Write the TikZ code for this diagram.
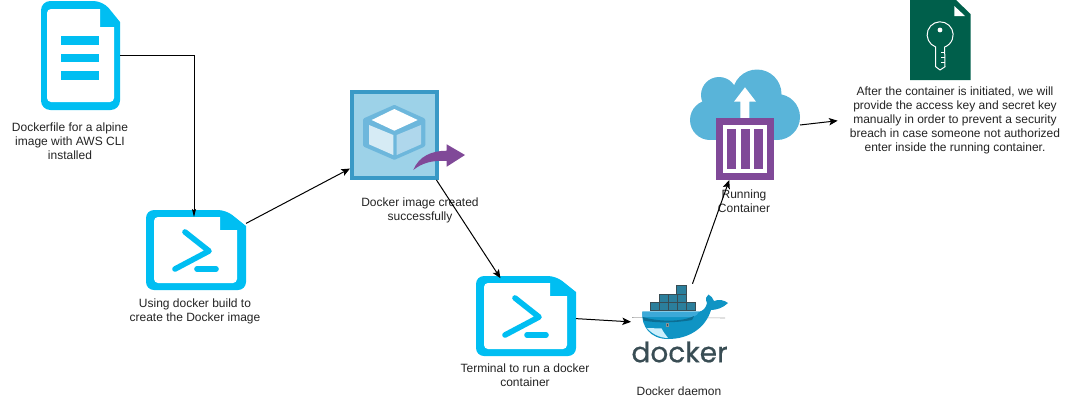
\documentclass[tikz,border=0pt]{standalone}
\usepackage{fontspec}
\setmainfont{Liberation Sans}
\newfontfamily\logofont[FakeBold=0.6]{Poppins}
\usetikzlibrary{arrows.meta}

\definecolor{iconcyan}{HTML}{00BEF2}
\definecolor{azurepurple}{HTML}{804998}
\definecolor{azurecloud}{HTML}{59B4D9}
\definecolor{imageedge}{HTML}{3999C6}
\definecolor{imagefill}{HTML}{9DD2E8}
\definecolor{cubeedge}{HTML}{6DB7DC}
\definecolor{keygreen}{HTML}{005F4B}
\definecolor{labelgray}{HTML}{232323}
\definecolor{whalemid}{HTML}{0F94C4}
\definecolor{whaledark}{HTML}{0B6E94}
\definecolor{whaletop}{HTML}{3CA9D8}
\definecolor{boxteal}{HTML}{2B7F9C}
\definecolor{logoslate}{HTML}{394D54}

\tikzset{
  terminalicon/.pic={
    \fill [iconcyan,rounded corners=6pt] (-50,-40) -- (30,-40) [sharp corners] -- (50,-24) [rounded corners=6pt] -- (50,40) -- (-50,40) -- cycle;
    \fill [white,rounded corners=3pt] (-42,-33) [sharp corners] -- (24,-33) -- (24,-20) -- (41,-20) [rounded corners=3pt] -- (41,33) -- (-42,33) -- cycle;
    \draw [iconcyan,line width=4.2pt,line cap=round,line join=round] (-11,-18) -- (13,1) -- (-21,19);
    \draw [iconcyan,line width=4.2pt,line cap=round] (1,19) -- (20,19);
  }
}

\begin{document}
\begin{tikzpicture}[
    x=0.75pt,y=-0.75pt,
    iconbox/.style={inner sep=0pt,outer sep=0pt},
    caption/.style={align=center,inner sep=0pt,text=labelgray,font=\fontsize{9}{10.5}\selectfont},
    flow/.style={draw=black,line width=0.75pt,-{Stealth[length=6.5pt,width=5.5pt,inset=1.5pt]}}
    ]

    \useasboundingbox (0,0) rectangle (1071,401);

    % icon boxes:
    \node (dockerfile) at (80.5,55.5) [iconbox,minimum width=59.25pt,minimum height=82.5pt] {};
    \node (build) at (196,250) [iconbox,minimum width=75pt,minimum height=60pt] {};
    \node (image) at (394.5,135) [iconbox,minimum width=66.75pt,minimum height=67.5pt] {};
    \node (terminal) at (526,316) [iconbox,minimum width=75pt,minimum height=60pt] {};
    \node (daemon) at (680,327) [iconbox,minimum width=73.5pt,minimum height=63pt] {};
    \node (cloud) at (745,125) [iconbox,minimum width=82.5pt,minimum height=82.5pt] {};
    \node (keyfile) at (940.25,40) [iconbox,minimum width=45.5pt,minimum height=60pt] {};

    % dockerfile icon:
    \fill [iconcyan,rounded corners=7pt] (41,1) -- (103,1) [sharp corners] -- (120,22) [rounded corners=7pt] -- (120,110) -- (41,110) -- cycle;
    \fill [white,rounded corners=3pt] (47,9) [sharp corners] -- (100,9) -- (100,27) -- (114,27) [rounded corners=3pt] -- (114,102) -- (47,102) -- cycle;
    \foreach \y in {36,53.5,71}
      \fill [iconcyan] (61,\y) rectangle (99,\y+8.7);

    % terminal icons:
    \pic at (build) {terminalicon};
    \pic at (terminal) {terminalicon};

    % image icon:
    \draw [draw=imageedge,line width=3pt,fill=imagefill] (352,92) rectangle (437,178);
    \draw [draw=cubeedge,fill=cubeedge,line width=3pt,line join=round] (394.3,107) -- (423.3,120) -- (423.3,145) -- (394.3,157.7) -- (365,145) -- (365,120) -- cycle;
    \fill [white] (394.3,109) -- (417.7,120) -- (394.3,130.7) -- (371.7,120) -- cycle;
    \fill [cubeedge!28!white] (369,125) -- (393.3,135) -- (393.3,155) -- (369,144.3) -- cycle;
    \fill [cubeedge!55!white] (396.7,135) -- (421,125) -- (421,144.3) -- (396.7,155) -- cycle;
    \fill [azurepurple] (413.3,170) .. controls (419,156) and (432,150.7) .. (446.7,150.7) -- (446.7,144.3) -- (465,155) -- (446.7,166.7) -- (446.7,161) .. controls (432,160) and (422,163) .. (413.3,170) -- cycle;

    % docker whale:
    \draw [gray!70,line width=0.4pt] (632,317.5) -- (725,318);
    \fill [whalemid] (642.3,311.7) -- (699,311.7) .. controls (703,311) and (706,308) .. (707,303) .. controls (705,299) and (706,296) .. (708.5,294.5) .. controls (711,296) and (713,298) .. (714,301) .. controls (719,299) and (724,300) .. (728,303) .. controls (723,308) and (716,310) .. (711,310) .. controls (706,327) and (690,339) .. (668,339) .. controls (650,339) and (641,326) .. (642.3,311.7) -- cycle;
    \fill [whaletop] (642.3,311.7) -- (699,311.7) .. controls (698,314) and (696,316) .. (693,317) -- (642.6,317) -- cycle;
    \fill [whaledark] (642.8,317) .. controls (655,321) and (680,323) .. (694,316) -- (692,320) .. controls (675,323) and (655,323) .. (643.5,320.5) -- cycle;
    \fill [white!80!cyan] (647,328) -- (661.7,328.5) .. controls (663,332) and (666,335) .. (668,338) .. controls (659,338) and (651,333) .. (647,328) -- cycle;
    \fill [logoslate!60!white] (665.5,323.2) rectangle (669,326.6);
    \fill [logoslate] (666.6,324.2) rectangle (668,325.6);
    \foreach \l/\t/\r/\b in {676.3/285.3/686.3/294,659/294/686.3/302.7,650.3/302.7/695/310.7} {
      \draw [logoslate,fill=boxteal,line width=0.5pt] (\l,\t) rectangle (\r,\b);
    }
    \foreach \x in {659,668,677,686.3}
      \draw [logoslate,line width=0.4pt] (\x,302.7) -- (\x,310.7);
    \foreach \x in {668,677}
      \draw [logoslate,line width=0.4pt] (\x,294) -- (\x,302.7);
    \node (dockerword) at (679.5,352) [inner sep=0pt,text=logoslate,font=\logofont\fontsize{21}{21}\selectfont] {docker};

    % cloud icon:
    \fill [azurecloud] (757,94) circle (24.5);
    \fill [azurecloud] (719,95) circle (18);
    \fill [azurecloud] (710,120) circle (20);
    \fill [azurecloud] (777,117) circle (23);
    \fill [azurecloud] (710,100) rectangle (777,140);
    \fill [white] (745,87.3) -- (756,101.7) -- (749.3,101.7) -- (749.3,118) -- (740.3,118) -- (740.3,101.7) -- (734,101.7) -- cycle;
    \fill [azurepurple] (716,118) rectangle (774,180);
    \fill [white] (722.7,125) rectangle (767.3,173.3);
    \foreach \x in {727.3,740.5,753.8}
      \fill [azurepurple] (\x,129.3) rectangle (\x+9,169);

    % key icon:
    \fill [keygreen] (910,0) -- (956,0) -- (970.5,14) -- (970.5,80) -- (910,80) -- cycle;
    \fill [white] (954.3,6) -- (965,16) -- (954.3,16) -- cycle;
    \draw [white,line width=0.75pt,line join=round] (935.7,47) arc [start angle=110,end angle=430,radius=13] -- (945,66.7) -- (940,70) -- (935.7,66.7) -- cycle;
    \fill [white] (940,30) circle (2.4);
    \foreach \y in {52,57,62}
      \draw [white,line width=0.75pt] (941,\y) -- (945,\y);

    % captions:
    \node (dockerfiletext) at (70,141) [caption] {Dockerfile for a alpine\\image with AWS CLI\\installed};
    \node (buildtext) at (195,311) [caption] {Using docker build to\\create the Docker image};
    \node (imagetext) at (420,210) [caption] {Docker image created\\successfully};
    \node (terminaltext) at (525,375) [caption] {Terminal to run a docker\\container};
    \node (daemontext) at (679,391) [caption] {Docker daemon};
    \node (runningtext) at (744,201) [caption] {Running\\Container};
    \node (notetext) at (955,120.7) [caption,inner xsep=9pt] {After the container is initiated, we will\\provide the access key and secret key\\manually in order to prevent a security\\breach in case someone not authorized\\enter inside the running container.};

    % connectors:
    \draw [flow,-{Stealth[length=6pt,width=3pt,inset=1pt]}] (dockerfile.east) -| ([shift={(-2,7)}]build.north);
    \draw [flow] (build.28) -- (image.217);
    \draw [flow,shorten >=-2pt] (image.313) -- (terminal.124);
    \draw [flow] (terminal.357) -- (daemon.174);
    \draw [flow,shorten <=1pt] (daemon.74) -- (cloud.254);
    \draw [flow] (cloud.east) -- (notetext.west);

  \end{tikzpicture}
\end{document}
